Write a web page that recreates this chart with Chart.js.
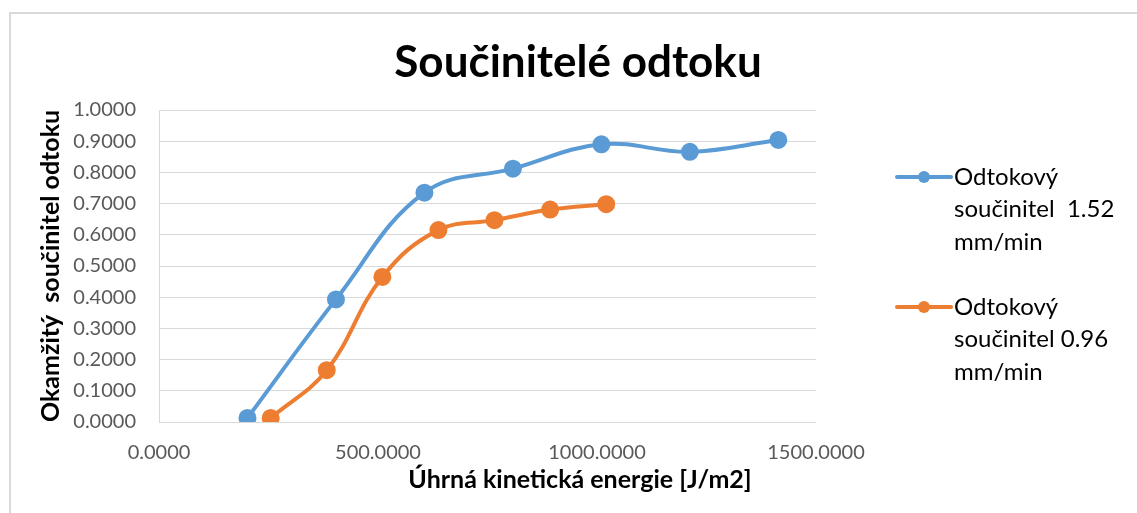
<!DOCTYPE html>
<html>
<head>
<meta charset="utf-8">
<script src="https://cdn.jsdelivr.net/npm/chart.js@4"></script>
<style>
  html, body { margin: 0; padding: 0; background: #fff; }
  #wrap { width: 1137px; height: 513px; }
</style>
</head>
<body>
<div id="wrap"><canvas id="chart-kinetic"></canvas></div>
<script>
// Data
const blueX = [202, 404, 606, 808, 1010, 1212, 1414];
const blueY = [0.013, 0.393, 0.735, 0.812, 0.890, 0.866, 0.904];
const orangeX = [255, 383, 510, 638, 766, 893, 1021];
const orangeY = [0.013, 0.166, 0.465, 0.615, 0.647, 0.681, 0.698];
const seriesLabels = [
  ["Odtokový", "součinitel  1.52", "mm/min"],
  ["Odtokový", "součinitel 0.96", "mm/min"],
];
const xTicks = [0, 500, 1000, 1500];
const yTicks = [0, 0.1, 0.2, 0.3, 0.4, 0.5, 0.6, 0.7, 0.8, 0.9, 1.0];

const BLUE = "#5B9BD5";
const ORANGE = "#ED7D31";
const FONT = "Lato";

const toPoints = (xs, ys) => xs.map((x, i) => ({ x: x, y: ys[i] }));

// Outer border, title, x title and a multi-line legend
const decorations = {
  id: "decorations",
  beforeDraw(chart) {
    const ctx = chart.ctx;
    ctx.save();
    ctx.strokeStyle = "#D9D9D9";
    ctx.lineWidth = 2;
    ctx.beginPath();
    ctx.moveTo(10, chart.height);
    ctx.lineTo(10, 13);
    ctx.lineTo(chart.width, 13);
    ctx.stroke();
    ctx.restore();
  },
  afterDraw(chart) {
    const ctx = chart.ctx;
    ctx.save();
    ctx.fillStyle = "#000";
    ctx.textAlign = "center";
    ctx.textBaseline = "middle";

    // chart title
    ctx.font = "bold 44px '" + FONT + "'";
    ctx.fillText("Součinitelé odtoku", 578, 63);

    // x axis title
    ctx.font = "bold 25px '" + FONT + "'";
    ctx.fillText("Úhrná kinetická energie [J/m2]", 580, 480);

    // legend
    ctx.font = "24px '" + FONT + "'";
    ctx.textAlign = "left";
    chart.data.datasets.forEach((ds, i) => {
      const top = 177 + i * 130;
      ctx.strokeStyle = ds.borderColor;
      ctx.lineWidth = 4;
      ctx.lineCap = "round";
      ctx.beginPath();
      ctx.moveTo(897, top);
      ctx.lineTo(951, top);
      ctx.stroke();
      ctx.fillStyle = ds.borderColor;
      ctx.beginPath();
      ctx.arc(924, top, 6, 0, Math.PI * 2);
      ctx.fill();
      ctx.fillStyle = "#000";
      seriesLabels[i].forEach((line, j) => {
        ctx.fillText(line, 954, top + j * 32.5);
      });
    });
    ctx.restore();
  },
};

const DATA = {
  datasets: [
    {
      label: seriesLabels[0].join(" "),
      data: toPoints(blueX, blueY),
      borderColor: BLUE,
      backgroundColor: BLUE,
      borderWidth: 4,
      pointRadius: 7,
      pointHoverRadius: 7,
      showLine: true,
      tension: 0.4,
    },
    {
      label: seriesLabels[1].join(" "),
      data: toPoints(orangeX, orangeY),
      borderColor: ORANGE,
      backgroundColor: ORANGE,
      borderWidth: 4,
      pointRadius: 7,
      pointHoverRadius: 7,
      showLine: true,
      tension: 0.4,
    },
  ],
};

const CONFIG = {
  type: "scatter",
  data: DATA,
  options: {
    responsive: true,
    maintainAspectRatio: false,
    animation: false,
    layout: {
      padding: { top: 110, right: 321, bottom: 0, left: 0 },
    },
    plugins: {
      legend: { display: false },
      tooltip: { enabled: false },
      title: { display: false },
    },
    scales: {
      x: {
        type: "linear",
        min: 0,
        max: 1500,
        afterBuildTicks: (scale) => {
          scale.ticks = xTicks.map((v) => ({ value: v }));
        },
        afterFit: (scale) => {
          scale.height = 91;
        },
        border: { display: false },
        grid: { display: false, drawTicks: false },
        ticks: {
          color: "#595959",
          padding: 19,
          maxRotation: 0,
          font: { family: FONT, size: 20 },
          callback: (v) => Number(v).toFixed(4),
        },
      },
      y: {
        min: 0,
        max: 1,
        afterBuildTicks: (scale) => {
          scale.ticks = yTicks.map((v) => ({ value: v }));
        },
        afterFit: (scale) => {
          scale.width = 159;
        },
        border: { display: true, color: "#D9D9D9", width: 1 },
        grid: { color: "#D9D9D9", lineWidth: 1, drawTicks: false },
        ticks: {
          color: "#595959",
          padding: 23,
          font: { family: FONT, size: 20 },
          callback: (v) => Number(v).toFixed(4),
        },
        title: {
          display: true,
          text: "Okamžitý  součinitel odtoku",
          color: "#000",
          font: { family: FONT, size: 25, weight: "bold" },
          padding: { top: 36, bottom: 0 },
        },
      },
    },
  },
  plugins: [decorations],
};

new Chart(document.getElementById("chart-kinetic"), CONFIG);
</script>
</body>
</html>
